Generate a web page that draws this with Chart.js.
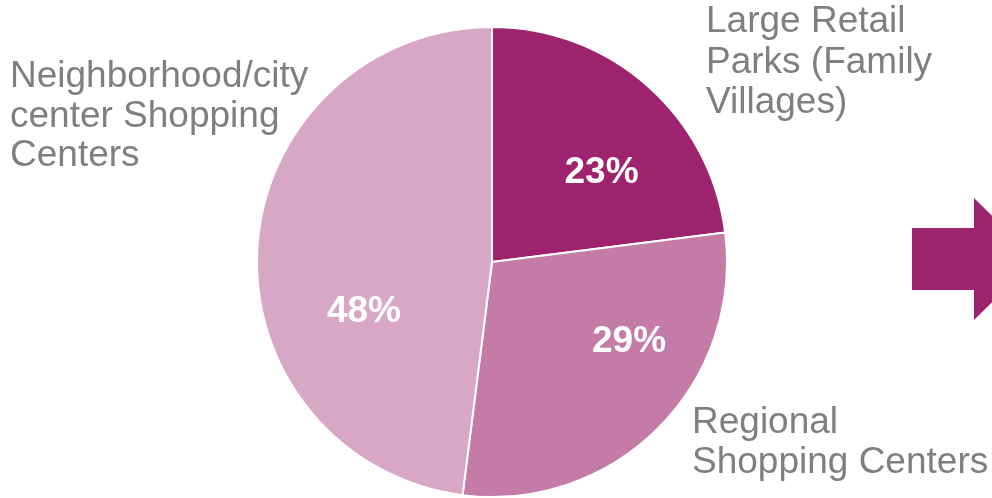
<!DOCTYPE html>
<html lang="en">
<head>
<meta charset="UTF-8">
<title>Shopping center mix</title>
<script src="https://cdn.jsdelivr.net/npm/chart.js"></script>
<style>
  html, body { margin: 0; padding: 0; background: #fff; }
  #wrap { width: 992px; height: 498px; }
</style>
</head>
<body>
<div id="wrap"><canvas id="chart" width="992" height="498"></canvas></div>
<script>
// data
const categories = [
  ['Large Retail', 'Parks (Family', 'Villages)'],
  ['Regional', 'Shopping Centers'],
  ['Neighborhood/city', 'center Shopping', 'Centers']
];
const shares = [23, 29, 48];
const colors = ['#9e236e', '#c47ba8', '#d9a7c6'];

// where the text sits (layout only)
const labelPos = [
  { x: 706, y: [32, 72.5, 113] },
  { x: 692, y: [433, 473] },
  { x: 10, y: [87, 126.5, 166] }
];
const pctOffset = [[0.466, -0.39], [0.583, 0.326], [-0.545, 0.2]];

const labelPlugin = {
  id: 'labels',
  afterDatasetsDraw(chart) {
    const ctx = chart.ctx;
    const arcs = chart.getDatasetMeta(0).data;
    const cx = arcs[0].x, cy = arcs[0].y, r = arcs[0].outerRadius;
    ctx.save();

    // percentages inside slices
    ctx.fillStyle = '#ffffff';
    ctx.font = 'bold 37px "Liberation Sans", Arial, sans-serif';
    ctx.textAlign = 'center';
    ctx.textBaseline = 'alphabetic';
    shares.forEach((v, i) => {
      ctx.fillText(v + '%', cx + pctOffset[i][0] * r, cy + pctOffset[i][1] * r + 13);
    });

    // category names
    ctx.fillStyle = '#7f7f7f';
    ctx.font = '37px "Liberation Sans", Arial, sans-serif';
    ctx.textAlign = 'left';
    categories.forEach((lines, i) => {
      lines.forEach((t, j) => ctx.fillText(t, labelPos[i].x, labelPos[i].y[j]));
    });

    // arrow on the right edge
    ctx.fillStyle = '#9e236e';
    ctx.beginPath();
    ctx.moveTo(912, 228);
    ctx.lineTo(974, 228);
    ctx.lineTo(974, 198);
    ctx.lineTo(1036, 259);
    ctx.lineTo(974, 320);
    ctx.lineTo(974, 290);
    ctx.lineTo(912, 290);
    ctx.closePath();
    ctx.fill();

    ctx.restore();
  }
};

new Chart(document.getElementById('chart'), {
  type: 'pie',
  data: {
    labels: categories.map(c => c.join(' ')),
    datasets: [{
      data: shares,
      backgroundColor: colors,
      borderColor: '#ffffff',
      borderWidth: 2
    }]
  },
  options: {
    responsive: false,
    devicePixelRatio: 1,
    animation: false,
    layout: { padding: { top: 26, left: 256, right: 264, bottom: 0 } },
    plugins: {
      legend: { display: false },
      tooltip: { enabled: false }
    }
  },
  plugins: [labelPlugin]
});
</script>
</body>
</html>
